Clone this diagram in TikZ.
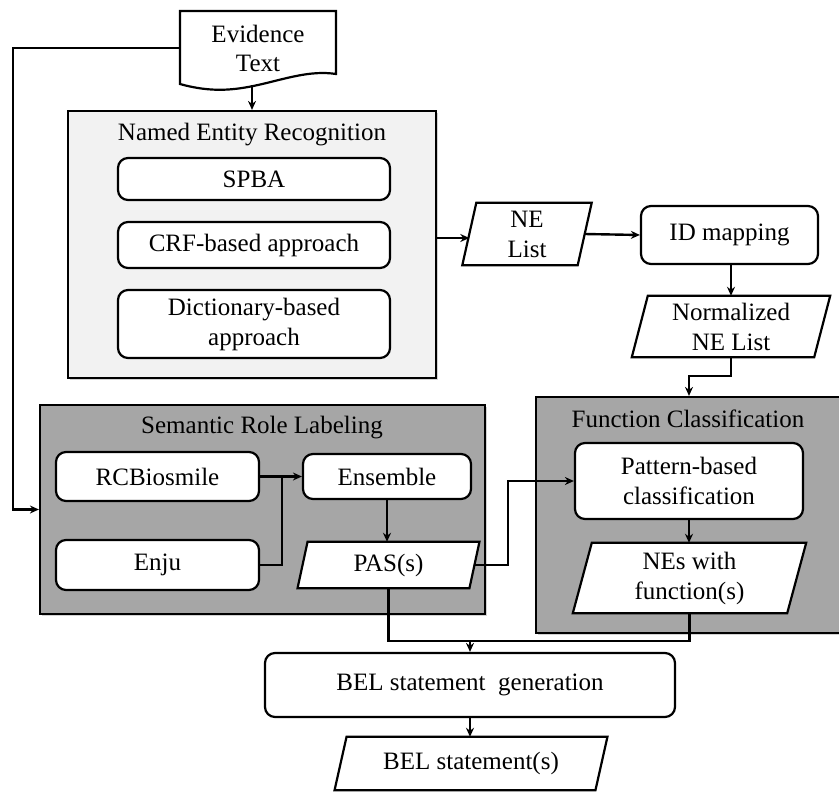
\documentclass[tikz,border=0pt]{standalone}
\usepackage{fontspec}
\setmainfont{Liberation Serif}
\usetikzlibrary{arrows.meta,calc,shadows}
\pgfdeclarelayer{back}
\pgfdeclarelayer{mid}
\pgfsetlayers{back,mid,main}
\newcommand\paraframe[2]{%
  \begin{pgfonlayer}{mid}
    \draw[line width=2.2pt,fill=white,line join=miter]
      ($(#1.south west)+(-#2,0)$) -- ($(#1.north west)+(#2,0)$) --
      ($(#1.north east)+(#2,0)$) -- ($(#1.south east)+(-#2,0)$) -- cycle;
  \end{pgfonlayer}}
\definecolor{lightfill}{HTML}{F2F2F2}
\definecolor{darkfill}{HTML}{A6A6A6}
\tikzset{
  procbox/.style={draw, line width=2.2pt, rounded corners=10pt, fill=white, align=center, inner sep=0pt},
  grpbox/.style={draw, line width=2.2pt, inner sep=0pt, drop shadow={opacity=0.35, shadow xshift=2pt, shadow yshift=-2pt}},
  txt/.style={align=center, inner sep=0pt},
  conn/.style={draw, line width=2.4pt},
  arr/.style={conn, -{Stealth[length=9pt,width=8pt]}},
}
\begin{document}
\begin{tikzpicture}[x=1pt, y=-1pt, font=\fontsize{25}{30}\selectfont]
\useasboundingbox (0,0) rectangle (839,792);

% group boxes
\begin{pgfonlayer}{back}
  \fill[white] (0,0) rectangle (839,792);
  \node[grpbox, fill=lightfill, minimum width=368pt, minimum height=267pt] (ner) at (252,244.5) {};
  \node[grpbox, fill=darkfill, minimum width=445pt, minimum height=209pt] (srl) at (262.5,509.5) {};
  \node[grpbox, fill=darkfill, minimum width=306pt, minimum height=236pt] (fc) at (689,515) {};
\end{pgfonlayer}

% Evidence text (document shape)
\draw[line width=2.2pt, fill=white] (180,11) -- (336,11) -- (336,74)
  .. controls (310,70) and (285,79) .. (258,85)
  .. controls (235,90) and (212,93) .. (180,84) -- cycle;
\node[txt, minimum width=156pt, minimum height=74pt] (ev) at (258,48) {Evidence\\[-1pt]Text};

% titles
\node[txt] (nert) at (252,135) {Named Entity Recognition};
\node[txt] (srlt) at (262,428) {Semantic Role Labeling};
\node[txt] (fct) at (688,419) {Function Classification};

% NER contents
\node[procbox, minimum width=272pt, minimum height=42pt] (spba) at (254,179) {SPBA};
\node[procbox, minimum width=272pt, minimum height=46pt] (crf) at (254,245) {CRF-based approach};
\node[procbox, minimum width=272pt, minimum height=68pt] (dict) at (254,324) {Dictionary-based\\approach};

% NE list / ID mapping / normalized
\node[txt, minimum width=115pt, minimum height=62pt] (nelist) at (527,234) {NE\\List};
\paraframe{nelist}{7pt}
\node[procbox, minimum width=177pt, minimum height=58pt] (idmap) at (729.5,235) {ID mapping};
\node[txt, minimum width=182pt, minimum height=61pt] (norm) at (731,326.5) {Normalized\\NE List};
\paraframe{norm}{8pt}

% SRL contents
\node[procbox, minimum width=203pt, minimum height=49pt] (rcb) at (157.5,476.5) {RCBiosmile};
\node[procbox, minimum width=203pt, minimum height=50pt] (enju) at (157.5,565) {Enju};
\node[procbox, minimum width=168pt, minimum height=45pt] (ens) at (387,476.5) {Ensemble};
\node[txt, minimum width=171.5pt, minimum height=46pt] (pas) at (388.5,565) {PAS(s)};
\paraframe{pas}{5pt}

% FC contents
\node[procbox, minimum width=228pt, minimum height=76pt] (pbc) at (689,481) {Pattern-based\\classification};
\node[txt, minimum width=214pt, minimum height=70pt] (nes) at (689.5,578) {NEs with\\function(s)};
\paraframe{nes}{9.5pt}

% BEL
\node[procbox, minimum width=410pt, minimum height=64pt] (belgen) at (470,685) {BEL statement\ \ generation};
\node[txt, minimum width=260.5pt, minimum height=53pt] (bels) at (471,763.5) {BEL statement(s)};
\paraframe{bels}{6pt}

% helper coordinates
\coordinate (lx) at (13,0);
\coordinate (jn) at (282,476.5);
\coordinate (px) at (508,0);
\coordinate (jb) at (470,641);

% connectors
\draw[arr] (ev.south -| ner.north) -- (ner.north);
\draw[arr] (ev.west) -- (ev.west -| lx) |- (srl.west);
\draw[arr] ([yshift=-4pt]ner.east |- nelist.west) -- ([yshift=-4pt]nelist.west);
\draw[arr] (nelist.east) -- (idmap.west);
\draw[arr] (idmap.south -| norm.north) -- (norm.north);
\draw[arr] (norm.south) -- ++(0,19) -| (fc.north);
\draw[arr] (rcb.east) -- (ens.west);
\draw[conn] (enju.east) -| (jn);
\draw[arr] (ens.south) -- (ens.south |- pas.north);
\draw[arr] (pas.east) -- (pas.east -| px) |- (pbc.west);
\draw[arr] (pbc.south) -- (pbc.south |- nes.north);
\draw[conn] (pas.south) |- (nes.south |- jb) -- (nes.south);
\draw[arr] (jb) -- (belgen.north);
\draw[arr] (belgen.south) -- (belgen.south |- bels.north);
\end{tikzpicture}
\end{document}
